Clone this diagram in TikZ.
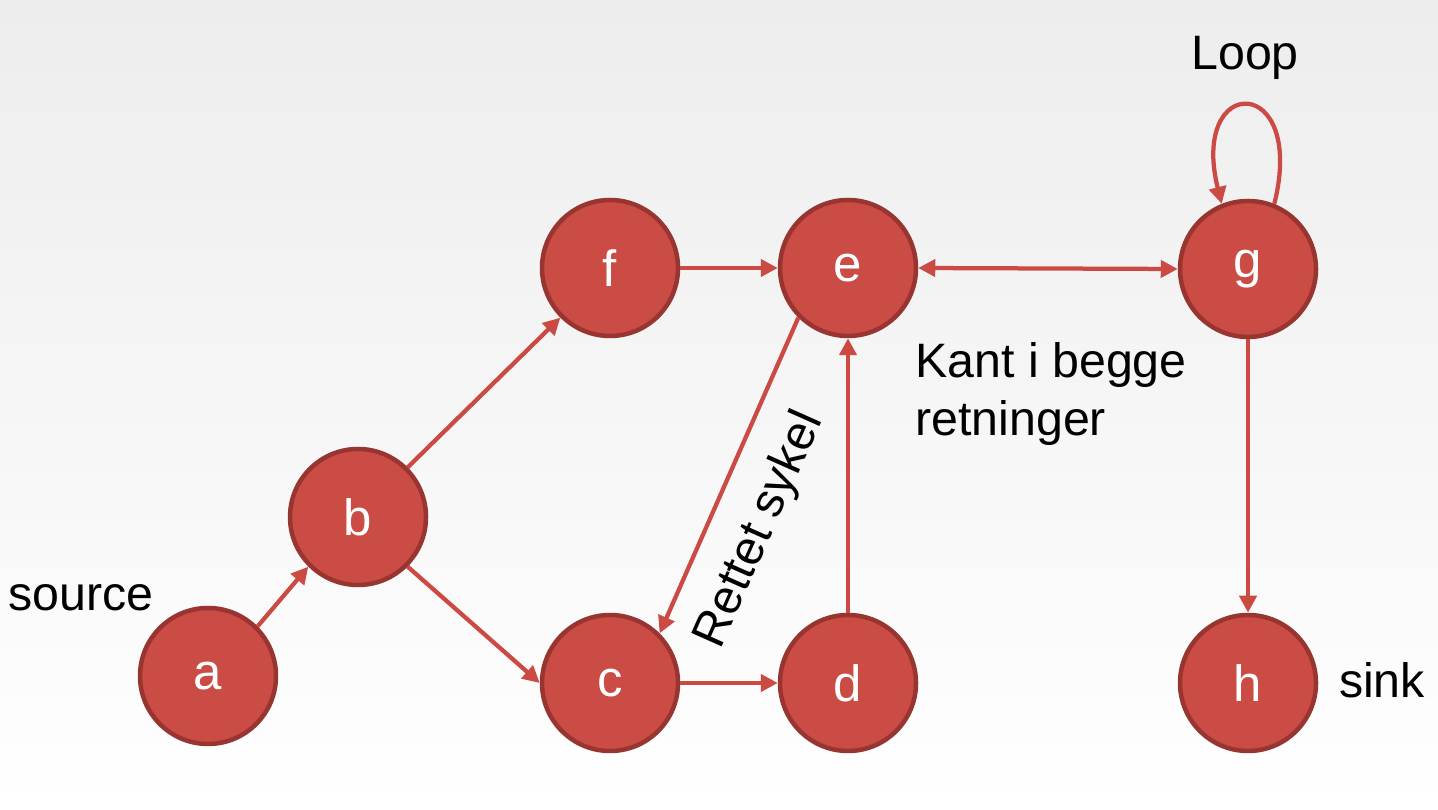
\documentclass[tikz,border=0pt]{standalone}
\usepackage{fontspec}
\setmainfont{Liberation Sans}
\usetikzlibrary{arrows.meta}
\definecolor{vtxfill}{HTML}{CB4C45}
\definecolor{vtxedge}{HTML}{983531}
\definecolor{arcedge}{HTML}{CC4A44}
\definecolor{bgtop}{HTML}{EDEDED}

\begin{document}
\begin{tikzpicture}[
  vtx/.style={circle, draw=vtxedge, fill=vtxfill, line width=0.09cm,
              minimum size=2.72cm, inner sep=0pt, text=white,
              font=\fontsize{29}{34}\selectfont},
  arc/.style={draw=arcedge, line width=0.085cm, -{Triangle[length=0.34cm, width=0.34cm]}},
  biarc/.style={draw=arcedge, line width=0.085cm,
                {Triangle[length=0.34cm, width=0.34cm]}-{Triangle[length=0.34cm, width=0.34cm]}},
  lab/.style={font=\fontsize{27.5}{33}\selectfont, inner sep=0pt},
]
% background
\fill[top color=bgtop, bottom color=white] (0,0) rectangle (28.76,16.2);
\useasboundingbox (0,0) rectangle (28.76,16.2);
\node[vtx] (a) at (4.16,  2.68) {a};
\node[vtx] (b) at (7.16,  5.86) {b};
\node[vtx] (f) at (12.2, 10.84) {f};
\node[vtx] (e) at (16.96,10.84) {e};
\node[vtx] (g) at (24.96,10.82) {g};
\node[vtx] (c) at (12.2,  2.54) {c};
\node[vtx] (d) at (16.96, 2.54) {d};
\node[vtx] (h) at (24.96, 2.54) {h};
\node[lab] (source) at (1.62, 4.24) {source};
\node[lab] (sink) at (27.64, 2.6) {sink};
\node[lab] (loop) at (24.9, 15.04) {Loop};
\node[lab, anchor=west, align=left] (both) at (18.3, 8.32) {Kant i begge\\retninger};
\node[lab, rotate=66] (cycle) at (15.2, 5.6) {Rettet sykel};
% arcs
\draw[arc] (a.north east) -- (b.south west);
\draw[arc] (b.north east) -- (f.south west);
\draw[arc] (b.south east) -- (c.west);
\draw[arc] (f.east) -- (e.west);
\draw[arc] (c.east) -- (d.west);
% directed cycle c -> d -> e -> c
\draw[arc] (d.north) -- (e.south);
\draw[arc] (e.south west) -- (c.north east);
% edge both ways
\draw[biarc] (e.east) -- (g.west);
\draw[arc] (g.south) -- (h.north);
% self loop on g
\draw[arc] (g.68) .. controls +(76:2.7) and +(104:2.7) .. (g.112);
\end{tikzpicture}
\end{document}
